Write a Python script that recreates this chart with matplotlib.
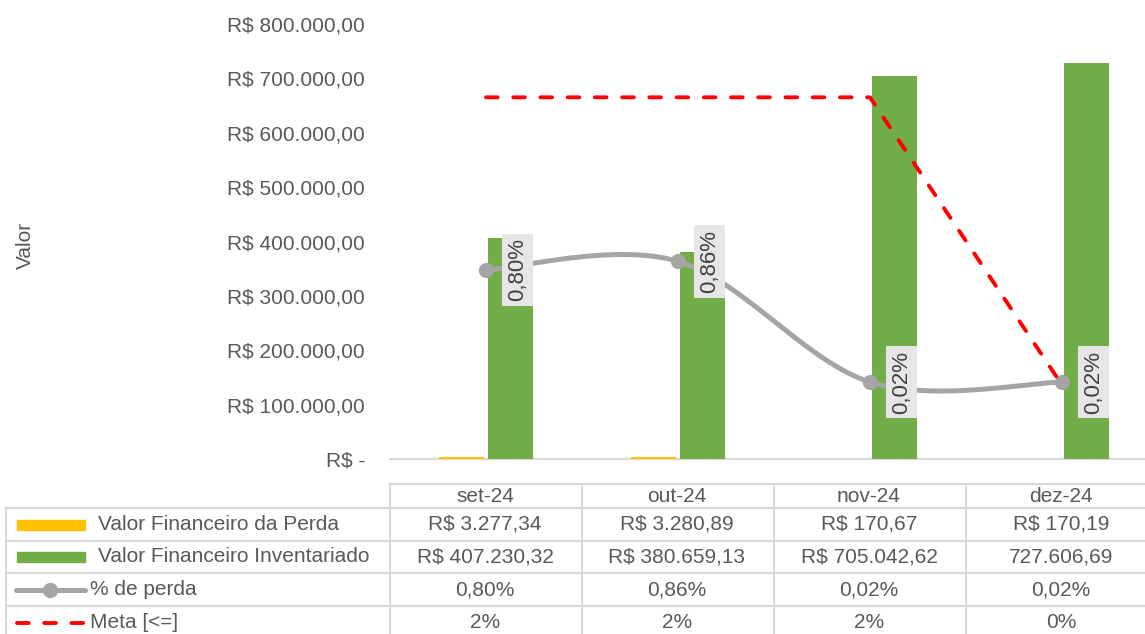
import numpy as np
import matplotlib
matplotlib.use("Agg")
import matplotlib.pyplot as plt
from matplotlib.lines import Line2D
from matplotlib.patches import Rectangle

# ---------------- data ----------------
categories = ["set-24", "out-24", "nov-24", "dez-24"]
perda = [3277.34, 3280.89, 170.67, 170.19]
inventariado = [407230.32, 380659.13, 705042.62, 727606.69]
pct_perda = [0.80, 0.86, 0.02, 0.02]          # %
meta = [2, 2, 2, 0]                            # %
perda_txt = ["R$ 3.277,34", "R$ 3.280,89", "R$ 170,67", "R$ 170,19"]
invent_txt = ["R$ 407.230,32", "R$ 380.659,13", "R$ 705.042,62", "727.606,69"]
pct_txt = ["0,80%", "0,86%", "0,02%", "0,02%"]
meta_txt = ["2%", "2%", "2%", "0%"]
yticks = [0, 100000, 200000, 300000, 400000, 500000, 600000, 700000, 800000]
ytick_labels = ["R$ -", "R$ 100.000,00", "R$ 200.000,00", "R$ 300.000,00",
                "R$ 400.000,00", "R$ 500.000,00", "R$ 600.000,00",
                "R$ 700.000,00", "R$ 800.000,00"]
series_names = ["Valor Financeiro da Perda", "Valor Financeiro Inventariado",
                "% de perda", "Meta [<=]"]

# ---------------- style ----------------
FONT = "Liberation Sans"
FS = 15
TXT = "#595959"
YELLOW = "#FFC000"
GREEN = "#70AD47"
GRAY = "#A5A5A5"
RED = "#FF0000"
GRID = "#D9D9D9"
plt.rcParams["font.family"] = [FONT, "DejaVu Sans"]

W, H = 1145, 634
fig = plt.figure(figsize=(W / 100, H / 100), dpi=100)

def fx(px):
    return px / W

def fy(py):
    return 1 - py / H

# main axes in pixel geometry
left, right, top, bottom = 390, 1158, 24, 459
ax = fig.add_axes([fx(left), fy(bottom), fx(right - left), (bottom - top) / H])
ax.set_xlim(-0.5, len(categories) - 0.5)
ax.set_ylim(0, 800000)
ax.set_yticks(yticks)
ax.set_yticklabels(ytick_labels, color=TXT, fontsize=FS)
ax.tick_params(axis="y", length=0, pad=18)
ax.set_xticks([])
for s in ["top", "right", "left"]:
    ax.spines[s].set_visible(False)
ax.spines["bottom"].set_color(GRID)
ax.spines["bottom"].set_linewidth(1.5)
ax.spines["bottom"].set_zorder(1)
ax.patch.set_alpha(0)

x = np.arange(len(categories))
bw = 0.234
ax.bar(x - bw / 2 - 0.012, perda, width=bw, color=YELLOW, zorder=3)
ax.bar(x + bw / 2 + 0.012, inventariado, width=bw, color=GREEN, zorder=3)

fig.text(fx(25), fy(245), "Valor", rotation=90, ha="center", va="center",
         color=TXT, fontsize=FS)

# secondary axis (hidden)
ax2 = ax.twinx()
ax2.set_ylim(-0.515, 2.51)
ax2.set_axis_off()

# smooth line (Bezier smoothing like Excel)
def smooth(xs, ys, n=60):
    xs = np.asarray(xs, float)
    ys = np.asarray(ys, float)
    sx = 192.0
    sy = 143.75
    P = np.column_stack([xs * sx, ys * sy])
    out = []
    for i in range(len(P) - 1):
        p0 = P[i - 1] if i > 0 else P[i]
        p1 = P[i]
        p2 = P[i + 1]
        p3 = P[i + 2] if i + 2 < len(P) else P[i + 1]
        c1 = p1 + (p2 - p0) / 6
        c2 = p2 - (p3 - p1) / 6
        t = np.linspace(0, 1, n)[:, None]
        b = (1 - t) ** 3 * p1 + 3 * (1 - t) ** 2 * t * c1 + 3 * (1 - t) * t ** 2 * c2 + t ** 3 * p2
        out.append(b)
    B = np.vstack(out)
    return B[:, 0] / sx, B[:, 1] / sy

sx_, sy_ = smooth(x, pct_perda)
ax2.plot(sx_, sy_, color=GRAY, lw=3.6, zorder=3, solid_capstyle="round")
ax2.plot(x, pct_perda, "o", color=GRAY, ms=10, zorder=4)
ax2.plot(x, meta, color=RED, lw=2.8, dashes=(3.0, 4.0), dash_capstyle="round",
         zorder=5)

for xi, yi, t in zip(x, pct_perda, pct_txt):
    ax2.annotate(t, (xi, yi), xytext=(22.7, 0), textcoords="offset points",
                 rotation=90, ha="center", va="center", color="#404040",
                 fontsize=16, zorder=6,
                 bbox=dict(boxstyle="square,pad=0.22", fc="#E7E6E6", ec="none"))

# ---------------- data table ----------------
col_x = [390, 582, 774, 966, 1158]
row_y = [484, 508, 541, 573, 606, 640]
LW = 1.5

def hline(y, x0, x1):
    fig.add_artist(Line2D([fx(x0), fx(x1)], [fy(y), fy(y)], color=GRID, lw=LW))

def vline(xp, y0, y1):
    fig.add_artist(Line2D([fx(xp), fx(xp)], [fy(y0), fy(y1)], color=GRID, lw=LW))

hline(row_y[0], 390, W)
for yy in row_y[1:-1]:
    hline(yy, 6, W)
for xp in col_x[:-1]:
    vline(xp, row_y[0], H)
vline(6, row_y[1], H)

# header
for i, c in enumerate(categories):
    cx = (col_x[i] + col_x[i + 1]) / 2 - 1
    fig.text(fx(cx), fy((row_y[0] + row_y[1]) / 2), c, ha="center", va="center",
             color=TXT, fontsize=FS)

rows = [perda_txt, invent_txt, pct_txt, meta_txt]
for r, vals in enumerate(rows):
    cy = (row_y[r + 1] + row_y[r + 2]) / 2
    for i, v in enumerate(vals):
        cx = (col_x[i] + col_x[i + 1]) / 2 - 1
        fig.text(fx(cx), fy(cy), v, ha="center", va="center", color=TXT, fontsize=FS)

# legend keys
def key_rect(r, color):
    cy = (row_y[r + 1] + row_y[r + 2]) / 2
    fig.add_artist(Rectangle((fx(17), fy(cy + 5)), fx(68), 10 / H, color=color))
    fig.text(fx(98), fy(cy), series_names[r], ha="left", va="center",
             color=TXT, fontsize=FS)

key_rect(0, YELLOW)
key_rect(1, GREEN)

cy = (row_y[3] + row_y[4]) / 2
fig.add_artist(Line2D([fx(16), fx(85)], [fy(cy), fy(cy)], color=GRAY, lw=3.6,
                      solid_capstyle="round"))
fig.add_artist(Line2D([fx(50)], [fy(cy)], marker="o", color=GRAY, ms=10))
fig.text(fx(90), fy(cy), series_names[2], ha="left", va="center", color=TXT, fontsize=FS)

cy = (row_y[4] + row_y[5]) / 2
fig.add_artist(Line2D([fx(17), fx(86)], [fy(cy), fy(cy)], color=RED, lw=2.8,
                      dashes=(3.0, 4.0), dash_capstyle="round"))
fig.text(fx(90), fy(cy), series_names[3], ha="left", va="center", color=TXT, fontsize=FS)

fig.savefig("out.png", dpi=100)
